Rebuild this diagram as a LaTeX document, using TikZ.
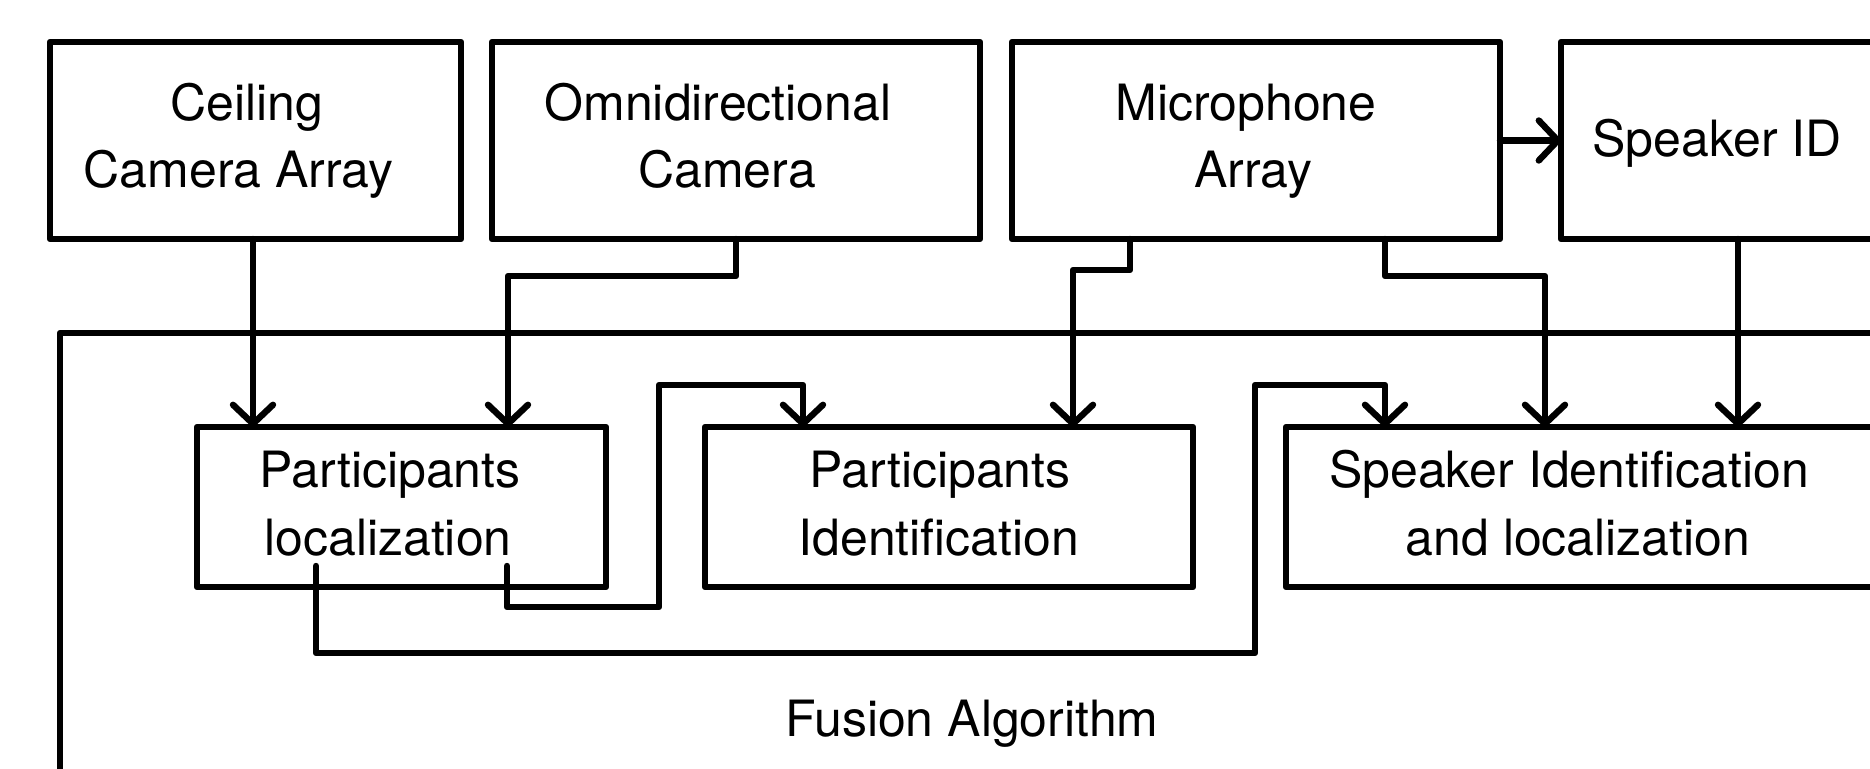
\documentclass[tikz,border=0pt]{standalone}
\usepackage{fontspec}
\setmainfont{TeX Gyre Heros}
\usetikzlibrary{arrows.meta}
\begin{document}
\begin{tikzpicture}[x=0.5pt,y=-0.5pt,line width=3.2pt,line cap=round,line join=round,
  box/.style={draw,rectangle,outer sep=0pt,inner sep=0pt,anchor=north west},
  lbl/.style={anchor=base,inner sep=0pt,font=\fontsize{25pt}{30pt}\selectfont},
  arr/.style={-{Straight Barb[length=9.5pt,width=20pt,round]}}]
\useasboundingbox (0,0) rectangle (1870,769);
\clip (0,0) rectangle (1870,769);

% outer fusion block
\node[box,minimum width=945pt,minimum height=258.5pt] (fusion) at (60,333) {};
\node[lbl] (fusT) at (972,737) {Fusion Algorithm};

% sensors (top row)
\node[box,minimum width=205.5pt,minimum height=98.5pt] (ceil) at (50,42) {};
\node[lbl] (ceilA) at (247,121) {Ceiling};
\node[lbl] (ceilB) at (238.5,188) {Camera Array};

\node[box,minimum width=244pt,minimum height=98.5pt] (omni) at (492,42) {};
\node[lbl] (omniA) at (718,121) {Omnidirectional};
\node[lbl] (omniB) at (727,188) {Camera};

\node[box,minimum width=244pt,minimum height=98.5pt] (mic) at (1012,42) {};
\node[lbl] (micA) at (1246,121) {Microphone};
\node[lbl] (micB) at (1253,188) {Array};

\node[box,minimum width=250pt,minimum height=98.5pt] (spk) at (1561,42) {};
\node[lbl] (spkT) at (1717,157) {Speaker ID};

% processing blocks
\node[box,minimum width=204.5pt,minimum height=80pt] (pl) at (197,427) {};
\node[lbl] (plA) at (390,488) {Participants};
\node[lbl] (plB) at (388,556) {localization};

\node[box,minimum width=244pt,minimum height=80pt] (pi) at (705,427) {};
\node[lbl] (piA) at (940,488) {Participants};
\node[lbl] (piB) at (939,556) {Identification};

\node[box,minimum width=400pt,minimum height=80pt] (sil) at (1286,427) {};
\node[lbl] (silA) at (1569,488) {Speaker Identification};
\node[lbl] (silB) at (1578,556) {and localization};

% routing points
\coordinate (xa) at (253,0);
\coordinate (b1) at (736,276);
\coordinate (b2) at (508,276);
\coordinate (b3) at (1130,270);
\coordinate (b4) at (1073,270);
\coordinate (b5) at (1385,276);
\coordinate (b6) at (1545,276);
\coordinate (xs) at (1738,0);
\coordinate (p1) at (507,566);
\coordinate (p2) at (507,607);
\coordinate (p3) at (659,607);
\coordinate (p4) at (659,385);
\coordinate (p5) at (803,385);
\coordinate (q1) at (316,566);
\coordinate (q2) at (316,653);
\coordinate (q3) at (1255,653);
\coordinate (q4) at (1255,385);
\coordinate (q5) at (1385,385);

% connectors
\draw[arr] (ceil.south -| xa) -- (pl.north -| xa);
\draw[arr] (omni.south -| b1) -- (b1) -- (b2) -- (pl.north -| b2);
\draw[arr] (mic.south -| b3) -- (b3) -- (b4) -- (pi.north -| b4);
\draw[arr] (mic.south -| b5) -- (b5) -- (b6) -- (sil.north -| b6);
\draw[arr] (spk.south -| xs) -- (sil.north -| xs);
\draw[arr] (mic.east) -- (spk.west);
\draw[arr] (p1) -- (p2) -- (p3) -- (p4) -- (p5) -- (pi.north -| p5);
\draw[arr] (q1) -- (q2) -- (q3) -- (q4) -- (q5) -- (sil.north -| q5);
\end{tikzpicture}
\end{document}
